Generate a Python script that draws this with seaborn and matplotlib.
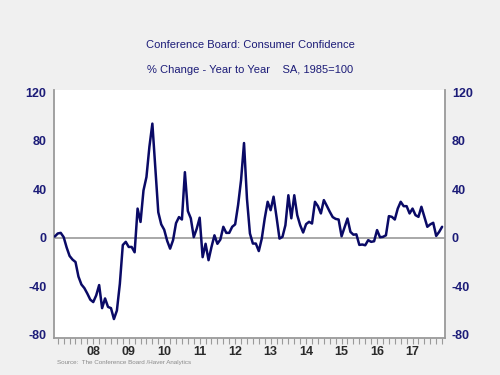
import numpy as np
import pandas as pd
import matplotlib
matplotlib.use("Agg")
import matplotlib.pyplot as plt
import seaborn as sns

# Conference Board consumer confidence, % change year to year (monthly, Jun 2007 - May 2018)
yoy = [1, 3.5, 4, 0.5, -8, -15, -18, -20, -32, -38.5,
       -41.5, -46, -51, -53, -47.5, -39, -58, -50, -57, -58,
       -67, -60, -38, -6, -3.4, -7.6, -7.6, -12, 24, 13,
       39, 50, 75, 94, 57, 21, 11, 6.6, -2.5, -9,
       -2, 12, 17, 15, 54, 22, 16, 0.5, 7.4, 16.5,
       -16, -5, -18.5, -7.6, 2, -5, -1.5, 9, 4, 4,
       9, 11, 27, 47.5, 78, 32, 3.5, -4.8, -4.8, -11,
       -0.8, 15.8, 29.6, 22.7, 33.8, 17, -0.7, 0.7, 10.3, 35,
       16, 35, 18.6, 10.3, 4.3, 11.2, 13.1, 11.7, 29.6, 26,
       20, 31, 26.3, 21.4, 17, 15.5, 15, 1.2, 8.4, 15.8,
       4.8, 2.5, 2.8, -5.9, -5.6, -6.2, -2, -3.4, -2.9, 6.3,
       0.4, 0.7, 2, 17.8, 17.2, 15, 24, 29.6, 26, 26,
       20, 24, 18.6, 17.2, 25.5, 17.2, 9, 11, 12.3, 1.5,
       4.8, 9]
start_month = "2007-06-01"
year_labels = ["08", "09", "10", "11", "12", "13", "14", "15", "16", "17"]
y_ticks = [-80, -40, 0, 40, 80, 120]

months = pd.date_range(start_month, periods=len(yoy), freq="MS")
df = pd.DataFrame({"t": months.year + (months.month - 1) / 12, "yoy": yoy})

sns.set_style("white")
plt.rcParams["font.family"] = ["Liberation Sans", "DejaVu Sans"]

navy = "#1c1c78"
grey = "#9a9a9a"

fig = plt.figure(figsize=(5, 3.75), dpi=100, facecolor="#f0f0f0")
ax = fig.add_axes([0.107, 0.099, 0.783, 0.662])
ax.set_facecolor("white")

ax.axhline(0, color=grey, lw=1.2, zorder=1)
sns.lineplot(data=df, x="t", y="yoy", color="#0a0a66", lw=1.8, ax=ax, zorder=3)

ax.set_xlim(2007.38, 2018.415)
ax.set_ylim(-82.5, 122)
ax.set_xlabel("")
ax.set_ylabel("")

# y labels on both sides
ax.set_yticks(y_ticks)
ax.set_yticklabels([str(v) for v in y_ticks])
ax.tick_params(axis="y", length=0, labelsize=9, labelcolor=navy, pad=5,
               left=False, right=False, labelleft=True, labelright=True)
for lab in ax.get_yticklabels():
    lab.set_fontweight("bold")

# bimonthly ticks, year labels centred mid-year
ax.set_xticks(np.arange(2007.5, 2018.4, 1 / 6))
ax.set_xticklabels([])
ax.tick_params(axis="x", direction="out", length=4, width=0.8, color=grey,
               bottom=True)
for i, lab in enumerate(year_labels):
    ax.text(2008.5 + i, -0.034, lab, transform=ax.get_xaxis_transform(),
            ha="center", va="top", fontsize=9, fontweight="bold", color="#2a2a2a")

for side in ["left", "right", "bottom"]:
    ax.spines[side].set_visible(True)
    ax.spines[side].set_color(grey)
    ax.spines[side].set_linewidth(1.3)
ax.spines["top"].set_visible(False)

fig.text(0.5, 0.88, "Conference Board: Consumer Confidence", ha="center",
         va="center", fontsize=8, color=navy)
fig.text(0.5, 0.814, "% Change - Year to Year    SA, 1985=100", ha="center",
         va="center", fontsize=8, color=navy)
fig.text(0.114, 0.033, "Source:  The Conference Board /Haver Analytics",
         ha="left", va="center", fontsize=4.5, color="#8a8a8a")

fig.savefig("out.png", dpi=100, facecolor=fig.get_facecolor())
